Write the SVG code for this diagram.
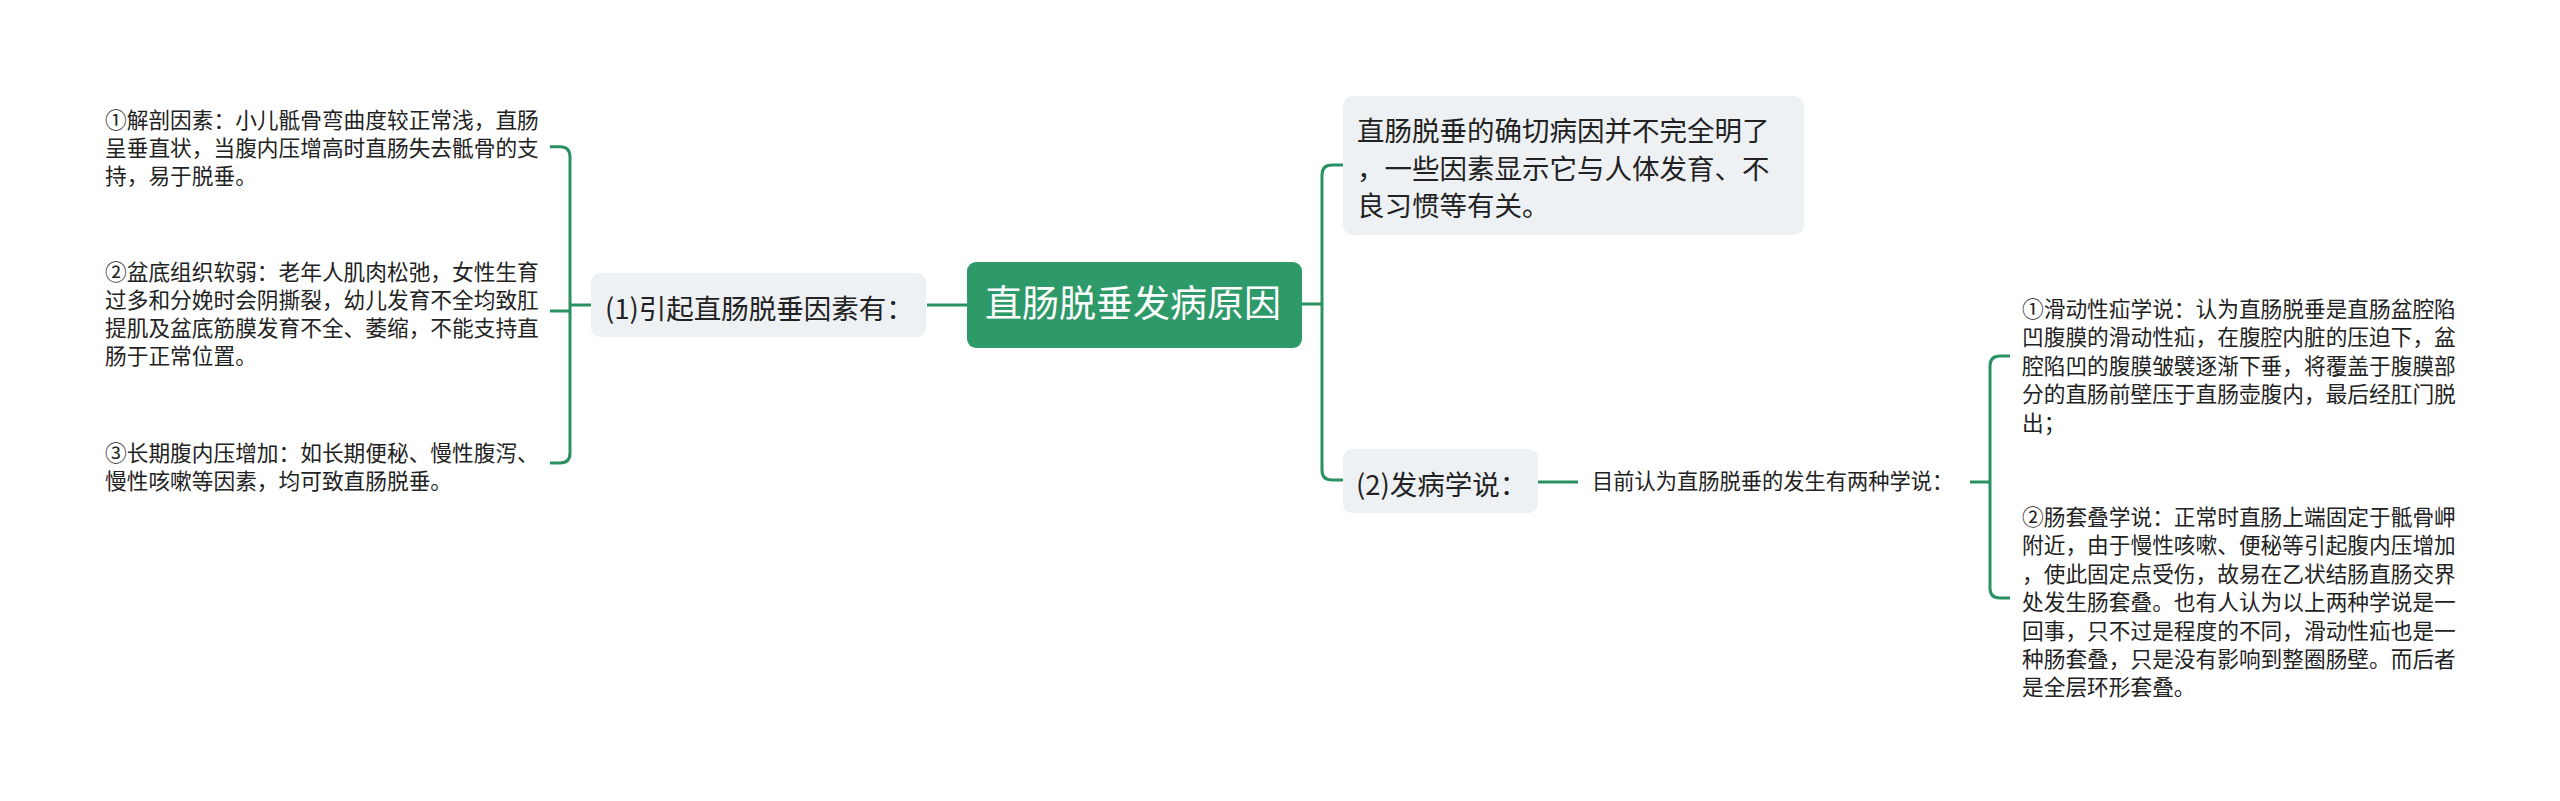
<svg xmlns="http://www.w3.org/2000/svg" width="2560" height="801" viewBox="0 0 2560 801">
<style>
text{font-family:"Noto Sans CJK SC","Noto Sans",sans-serif;fill:#222}
.l1{fill:#eef1f4}
.t1{font-size:27.5px}
.t2{font-size:21.7px}
.c{fill:none;stroke:#2a9162;stroke-width:3}
</style>
<rect width="2560" height="801" fill="#fff"/>
<g id="connectors">
<path class="c" d="M927,305 H967"/>
<path class="c" d="M591,305 H570"/>
<path class="c" d="M550,146.7 H560 Q570,146.7 570,156.7 V453 Q570,463 560,463 H550"/>
<path class="c" d="M550,311 H570"/>
<path class="c" d="M1302,304 H1322"/>
<path class="c" d="M1343,165 H1332 Q1322,165 1322,175 V470 Q1322,480 1332,480 H1343"/>
<path class="c" d="M1538,482 H1578"/>
<path class="c" d="M1970,482 H1990"/>
<path class="c" d="M2010,356 H2000 Q1990,356 1990,366 V588 Q1990,598 2000,598 H2010"/>
</g>
<g id="root">
<rect x="967" y="262" width="335" height="86" rx="9" fill="#2e9a69"/>
<text x="985" y="317" style="font-size:37px;fill:#fff">直肠脱垂发病原因</text>
</g>
<g id="n1">
<rect class="l1" x="591" y="273" width="335" height="64" rx="9"/>
<text class="t1" x="605" y="319">(1)引起直肠脱垂因素有：</text>
</g>
<g id="n1a">
<text class="t2"><tspan x="105" y="127.5">①解剖因素：小儿骶骨弯曲度较正常浅，直肠</tspan><tspan x="105" y="155.8">呈垂直状，当腹内压增高时直肠失去骶骨的支</tspan><tspan x="105" y="184.2">持，易于脱垂。</tspan></text>
</g>
<g id="n1b">
<text class="t2"><tspan x="105" y="279.5">②盆底组织软弱：老年人肌肉松弛，女性生育</tspan><tspan x="105" y="307.8">过多和分娩时会阴撕裂，幼儿发育不全均致肛</tspan><tspan x="105" y="336.1">提肌及盆底筋膜发育不全、萎缩，不能支持直</tspan><tspan x="105" y="364.4">肠于正常位置。</tspan></text>
</g>
<g id="n1c">
<text class="t2"><tspan x="105" y="461">③长期腹内压增加：如长期便秘、慢性腹泻、</tspan><tspan x="105" y="489.3">慢性咳嗽等因素，均可致直肠脱垂。</tspan></text>
</g>
<g id="n2">
<rect class="l1" x="1343" y="96" width="461" height="139" rx="10"/>
<text class="t1"><tspan x="1357" y="141">直肠脱垂的确切病因并不完全明了</tspan><tspan x="1357" y="178.5">，一些因素显示它与人体发育、不</tspan><tspan x="1357" y="216">良习惯等有关。</tspan></text>
</g>
<g id="n3">
<rect class="l1" x="1343" y="449" width="195" height="64" rx="9"/>
<text class="t1" x="1356" y="494.5">(2)发病学说：</text>
</g>
<g id="n3a">
<text x="1592" y="489.4" style="font-size:21.25px">目前认为直肠脱垂的发生有两种学说：</text>
</g>
<g id="n3a1">
<text class="t2"><tspan x="2022" y="317">①滑动性疝学说：认为直肠脱垂是直肠盆腔陷</tspan><tspan x="2022" y="345.4">凹腹膜的滑动性疝，在腹腔内脏的压迫下，盆</tspan><tspan x="2022" y="373.8">腔陷凹的腹膜皱襞逐渐下垂，将覆盖于腹膜部</tspan><tspan x="2022" y="402.2">分的直肠前壁压于直肠壶腹内，最后经肛门脱</tspan><tspan x="2022" y="430.6">出；</tspan></text>
</g>
<g id="n3a2">
<text class="t2"><tspan x="2022" y="525">②肠套叠学说：正常时直肠上端固定于骶骨岬</tspan><tspan x="2022" y="553.4">附近，由于慢性咳嗽、便秘等引起腹内压增加</tspan><tspan x="2022" y="581.8">，使此固定点受伤，故易在乙状结肠直肠交界</tspan><tspan x="2022" y="610.2">处发生肠套叠。也有人认为以上两种学说是一</tspan><tspan x="2022" y="638.6">回事，只不过是程度的不同，滑动性疝也是一</tspan><tspan x="2022" y="667">种肠套叠，只是没有影响到整圈肠壁。而后者</tspan><tspan x="2022" y="695.4">是全层环形套叠。</tspan></text>
</g>
</svg>
